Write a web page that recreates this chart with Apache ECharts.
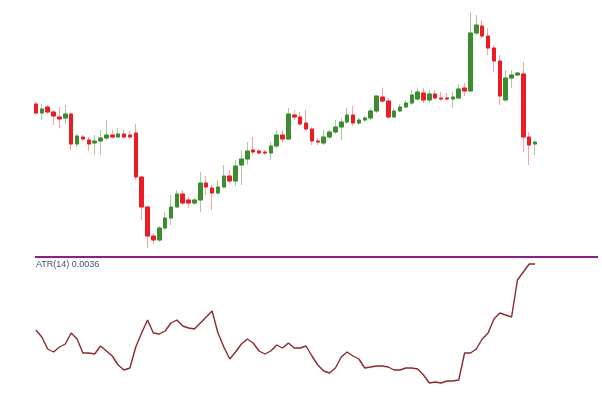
<!DOCTYPE html>
<html><head><meta charset="utf-8">
<script src="https://cdn.jsdelivr.net/npm/echarts@6/dist/echarts.min.js"></script>
<style>html,body{margin:0;padding:0;background:#fff}#c{width:602px;height:395px}</style>
</head><body><div id="c"></div>
<script>
const opens=[1.1146,1.1137,1.1143,1.1138,1.1133,1.1132,1.1136,1.1106,1.1113,1.1110,
1.1107,1.1109,1.1112,1.1115,1.1113,1.1116,1.1115,1.1117,1.1073,1.1043,
1.1014,1.1010,1.1022,1.1032,1.1043,1.1056,1.1050,1.1047,1.1050,1.1067,
1.1062,1.1057,1.1063,1.1074,1.1069,1.1085,1.1091,1.1100,1.1099,1.1098,
1.1097,1.1104,1.1115,1.1111,1.1135,1.1133,1.1127,1.1121,1.1109,1.1107,
1.1113,1.1118,1.1123,1.1128,1.1135,1.1127,1.1130,1.1132,1.1139,1.1153,
1.1149,1.1133,1.1139,1.1143,1.1147,1.1151,1.1157,1.1150,1.1156,1.1152,
1.1152,1.1151,1.1152,1.1162,1.1159,1.1217,1.1224,1.1214,1.1202,1.1189,
1.1150,1.1172,1.1175,1.1176,1.1113,1.1106];
const closes=[1.1137,1.1141,1.1138,1.1134,1.1131,1.1136,1.1106,1.1114,1.1111,1.1106,
1.1109,1.1112,1.1115,1.1113,1.1116,1.1113,1.1113,1.1073,1.1043,1.1014,
1.1010,1.1022,1.1032,1.1043,1.1056,1.1047,1.1047,1.1050,1.1067,1.1063,
1.1057,1.1063,1.1074,1.1069,1.1084,1.1091,1.1099,1.1098,1.1097,1.1097,
1.1104,1.1115,1.1111,1.1136,1.1133,1.1126,1.1121,1.1109,1.1108,1.1113,
1.1118,1.1123,1.1128,1.1135,1.1127,1.1130,1.1132,1.1139,1.1154,1.1149,
1.1133,1.1139,1.1143,1.1147,1.1155,1.1158,1.1150,1.1156,1.1152,1.1151,
1.1151,1.1153,1.1161,1.1159,1.1217,1.1225,1.1214,1.1202,1.1189,1.1154,
1.1172,1.1175,1.1177,1.1113,1.1105,1.1108];
const lows=[1.1135,1.1130,1.1136,1.1125,1.1122,1.1126,1.1100,1.1103,1.1109,1.1099,
1.1095,1.1095,1.1110,1.1111,1.1112,1.1111,1.1111,1.1070,1.1030,1.1002,
1.1006,1.1008,1.1020,1.1025,1.1042,1.1045,1.1042,1.1045,1.1038,1.1055,
1.1040,1.1055,1.1062,1.1067,1.1064,1.1065,1.1085,1.1095,1.1095,1.1095,
1.1090,1.1102,1.1108,1.1110,1.1130,1.1124,1.1119,1.1105,1.1105,1.1105,
1.1111,1.1116,1.1110,1.1126,1.1124,1.1125,1.1128,1.1130,1.1137,1.1147,
1.1131,1.1132,1.1138,1.1142,1.1145,1.1149,1.1147,1.1147,1.1150,1.1149,
1.1149,1.1142,1.1151,1.1154,1.1158,1.1215,1.1212,1.1195,1.1178,1.1145,
1.1148,1.1162,1.1174,1.1098,1.1085,1.1095];
const highs=[1.1148,1.1146,1.1145,1.1140,1.1143,1.1145,1.1137,1.1116,1.1115,1.1113,
1.1115,1.1120,1.1130,1.1120,1.1122,1.1121,1.1119,1.1126,1.1074,1.1044,
1.1017,1.1024,1.1038,1.1055,1.1060,1.1060,1.1053,1.1052,1.1078,1.1074,
1.1065,1.1070,1.1085,1.1080,1.1090,1.1100,1.1108,1.1113,1.1101,1.1100,
1.1108,1.1120,1.1120,1.1142,1.1140,1.1138,1.1140,1.1123,1.1112,1.1120,
1.1120,1.1130,1.1132,1.1142,1.1144,1.1132,1.1134,1.1142,1.1155,1.1162,
1.1152,1.1142,1.1146,1.1150,1.1160,1.1162,1.1162,1.1160,1.1160,1.1158,
1.1157,1.1158,1.1166,1.1167,1.1238,1.1235,1.1230,1.1222,1.1205,1.1195,
1.1180,1.1180,1.1178,1.1188,1.1118,1.1110];
const atr=[0.00228,0.00214,0.00190,0.00184,0.00194,0.00200,0.00222,0.00210,0.00182,0.00182,
0.00180,0.00196,0.00186,0.00176,0.00158,0.00148,0.00152,0.00194,0.00222,0.00248,
0.00222,0.00220,0.00226,0.00242,0.00248,0.00236,0.00232,0.00230,0.00242,0.00254,
0.00266,0.00222,0.00194,0.00170,0.00184,0.00200,0.00210,0.00202,0.00186,0.00180,
0.00186,0.00198,0.00192,0.00202,0.00192,0.00192,0.00196,0.00176,0.00158,0.00146,
0.00142,0.00152,0.00174,0.00184,0.00176,0.00170,0.00152,0.00154,0.00156,0.00156,
0.00154,0.00148,0.00148,0.00152,0.00152,0.00150,0.00138,0.00122,0.00124,0.00122,
0.00126,0.00126,0.00128,0.00182,0.00182,0.00190,0.00210,0.00222,0.00250,0.00262,
0.00258,0.00254,0.00328,0.00344,0.00360,0.00360];
const atrLabel='ATR(14) 0.0036';

const categories=opens.map((_,i)=>String(i+1));
const full=opens.map((o,i)=>[o,closes[i],lows[i],highs[i]]);
const bodies=opens.map((o,i)=>[o,closes[i],Math.min(o,closes[i]),Math.max(o,closes[i])]);

const chart=echarts.init(document.getElementById('c'),null,{renderer:'canvas'});
chart.setOption({
  animation:false,
  backgroundColor:'#ffffff',
  grid:[{left:33,top:0,width:505,height:255},{left:33,top:258,width:505,height:137}],
  xAxis:[{type:'category',data:categories,gridIndex:0,show:false,boundaryGap:true},
         {type:'category',data:categories,gridIndex:1,show:false,boundaryGap:true}],
  yAxis:[{type:'value',gridIndex:0,min:1.0995,max:1.1250,show:false,splitLine:{show:false}},
         {type:'value',gridIndex:1,min:0.00098,max:0.00372,show:false,splitLine:{show:false}}],
  series:[
    {type:'candlestick',xAxisIndex:0,yAxisIndex:0,data:full,barWidth:4,
     itemStyle:{color:'#a3cf9f',color0:'#f5a3a3',borderColor:'#a3cf9f',borderColor0:'#f5a3a3',borderWidth:1}},
    {type:'candlestick',xAxisIndex:0,yAxisIndex:0,data:bodies,barWidth:4,
     itemStyle:{color:'#3b8d2f',color0:'#ec1c24',borderColor:'#3b8d2f',borderColor0:'#ec1c24',borderWidth:1}},
    {type:'line',xAxisIndex:1,yAxisIndex:1,data:atr,symbol:'none',
     lineStyle:{color:'#8a2a2d',width:1.4}}
  ],
  graphic:[
    {type:'line',shape:{x1:35,y1:257,x2:598,y2:257},style:{stroke:'#8b1f8b',lineWidth:2},z:10},
    {type:'text',left:36,top:260,style:{text:atrLabel,fill:'#474d88',font:'9px "Liberation Sans", sans-serif'},z:10}
  ]
});
</script></body></html>
